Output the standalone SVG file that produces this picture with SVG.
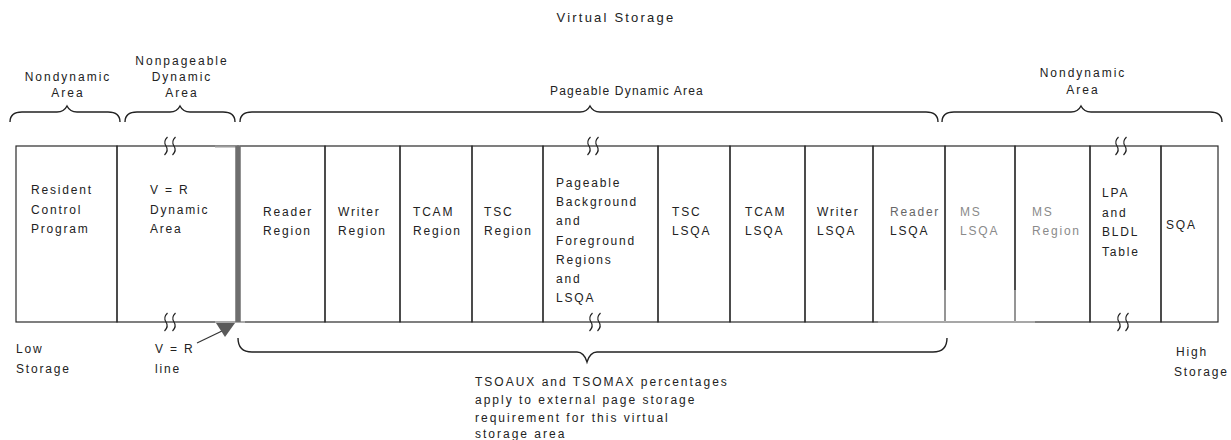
<svg xmlns="http://www.w3.org/2000/svg" width="1231" height="440" viewBox="0 0 1231 440">
<style>
.t{font-family:"Liberation Sans",Arial,sans-serif;font-size:12px;letter-spacing:1.8px;fill:#222}
.w{letter-spacing:2px}
.cell{fill:none;stroke:#2a2a2a;stroke-width:1.2}
.brace{fill:none;stroke:#222;stroke-width:1.4}
.sq{fill:none;stroke:#222;stroke-width:1.2}
.faded{fill:#8a8a8a}
</style>
<rect width="1231" height="440" fill="#fff"/>
<text class="t" x="616" y="22" text-anchor="middle" style="font-size:13px;letter-spacing:2.2px">Virtual Storage</text>

<g id="labels-top">
<text class="t w" x="68" y="81" text-anchor="middle">Nondynamic</text>
<text class="t w" x="68" y="97" text-anchor="middle">Area</text>
<text class="t w" x="182" y="65" text-anchor="middle">Nonpageable</text>
<text class="t w" x="182" y="81" text-anchor="middle">Dynamic</text>
<text class="t w" x="182" y="97" text-anchor="middle">Area</text>
<text class="t" x="627" y="95" text-anchor="middle" style="letter-spacing:1.2px">Pageable Dynamic Area</text>
<text class="t w" x="1083" y="77" text-anchor="middle">Nondynamic</text>
<text class="t w" x="1083" y="94" text-anchor="middle">Area</text>
</g>

<g id="braces">
<path class="brace" d="M10,122 Q10,112 22,112 L57,112 Q64,112 67,106 Q70,112 77,112 L108,112 Q120,112 120,122"/>
<path class="brace" d="M125,122 Q125,112 137,112 L170,112 Q177,112 180,106 Q183,112 190,112 L223,112 Q235,112 235,122"/>
<path class="brace" d="M240,122 Q240,112 252,112 L580,112 Q587,112 590,106 Q593,112 600,112 L926,112 Q938,112 938,122"/>
<path class="brace" d="M942,122 Q942,112 954,112 L1071,112 Q1078,112 1081,106 Q1084,112 1091,112 L1210,112 Q1222,112 1222,122"/>
<path class="brace" d="M238,338 Q238,352 252,352 L577,352 Q584,352 587,362 Q590,352 597,352 L933,352 Q947,352 947,338"/>
</g>

<g id="n1"><rect class="cell" x="16" y="146" width="101" height="176"/>
<text class="t" x="31" y="194">Resident</text><text class="t" x="31" y="213.5">Control</text><text class="t" x="31" y="233">Program</text></g>
<g id="n2"><rect class="cell" x="117" y="146" width="121" height="176"/>
<text class="t" x="150" y="194">V = R</text><text class="t" x="150" y="213.5">Dynamic</text><text class="t" x="150" y="233">Area</text></g>
<g id="n3"><rect class="cell" x="238" y="146" width="87" height="176"/>
<text class="t" x="263" y="216">Reader</text><text class="t" x="263" y="235">Region</text></g>
<g id="n4"><rect class="cell" x="325" y="146" width="75" height="176"/>
<text class="t" x="338" y="216">Writer</text><text class="t" x="338" y="235">Region</text></g>
<g id="n5"><rect class="cell" x="400" y="146" width="72" height="176"/>
<text class="t" x="413" y="216">TCAM</text><text class="t" x="413" y="235">Region</text></g>
<g id="n6"><rect class="cell" x="472" y="146" width="71" height="176"/>
<text class="t" x="484" y="216">TSC</text><text class="t" x="484" y="235">Region</text></g>
<g id="n7"><rect class="cell" x="543" y="146" width="115" height="176"/>
<text class="t" x="556" y="187">Pageable</text><text class="t" x="556" y="206.2">Background</text><text class="t" x="556" y="225.4">and</text><text class="t" x="556" y="244.6">Foreground</text><text class="t" x="556" y="263.8">Regions</text><text class="t" x="556" y="283">and</text><text class="t" x="556" y="302.2">LSQA</text></g>
<g id="n8"><rect class="cell" x="658" y="146" width="72" height="176"/>
<text class="t" x="672" y="216">TSC</text><text class="t" x="672" y="235">LSQA</text></g>
<g id="n9"><rect class="cell" x="730" y="146" width="75" height="176"/>
<text class="t" x="745" y="216">TCAM</text><text class="t" x="745" y="235">LSQA</text></g>
<g id="n10"><rect class="cell" x="805" y="146" width="68" height="176"/>
<text class="t" x="817" y="216">Writer</text><text class="t" x="817" y="235">LSQA</text></g>
<g id="n11"><rect class="cell" x="873" y="146" width="72" height="176"/>
<text class="t" x="890" y="216" style="fill:#666">Reader</text><text class="t" x="890" y="235">LSQA</text></g>
<g id="n12"><rect class="cell" x="945" y="146" width="70" height="176"/>
<text class="t faded" x="960" y="216">MS</text><text class="t faded" x="960" y="235">LSQA</text></g>
<g id="n13"><rect class="cell" x="1015" y="146" width="75" height="176"/>
<text class="t faded" x="1032" y="216">MS</text><text class="t faded" x="1032" y="235">Region</text></g>
<g id="n14"><rect class="cell" x="1090" y="146" width="71" height="176"/>
<text class="t" x="1102" y="197">LPA</text><text class="t" x="1102" y="216.5">and</text><text class="t" x="1102" y="236">BLDL</text><text class="t" x="1102" y="255.5">Table</text></g>
<g id="n15"><rect class="cell" x="1161" y="146" width="57" height="176"/>
<text class="t" x="1166" y="229">SQA</text></g>

<g id="fade">
<line x1="878" y1="322" x2="1035" y2="322" stroke="#b5b5b5" stroke-width="1.6"/>
<line x1="945" y1="290" x2="945" y2="322.5" stroke="#b5b5b5" stroke-width="1.4"/>
<line x1="1015" y1="290" x2="1015" y2="322.5" stroke="#b5b5b5" stroke-width="1.4"/>
</g>

<g id="breaks">
<path class="sq" d="M167.5,137 Q163,141.5 166,146 Q169,150.5 164.5,155 M175.5,137 Q171,141.5 174,146 Q177,150.5 172.5,155"/>
<path class="sq" d="M167.5,313 Q163,317.5 166,322 Q169,326.5 164.5,331 M175.5,313 Q171,317.5 174,322 Q177,326.5 172.5,331"/>
<path class="sq" d="M590.5,137 Q586,141.5 589,146 Q592,150.5 587.5,155 M598.5,137 Q594,141.5 597,146 Q600,150.5 595.5,155"/>
<path class="sq" d="M592.5,313 Q588,317.5 591,322 Q594,326.5 589.5,331 M600.5,313 Q596,317.5 599,322 Q602,326.5 597.5,331"/>
<path class="sq" d="M1118.5,137 Q1114,141.5 1117,146 Q1120,150.5 1115.5,155 M1126.5,137 Q1122,141.5 1125,146 Q1128,150.5 1123.5,155"/>
<path class="sq" d="M1120.5,313 Q1116,317.5 1119,322 Q1122,326.5 1117.5,331 M1128.5,313 Q1124,317.5 1127,322 Q1130,326.5 1125.5,331"/>
</g>

<g id="connectors">
<line x1="215" y1="146.5" x2="240" y2="146.5" stroke="#9a9a9a" stroke-width="2"/>
<line x1="215" y1="322" x2="245" y2="322" stroke="#aaa" stroke-width="2"/>
<line x1="238" y1="146" x2="238" y2="322" stroke="#6e6e6e" stroke-width="5.5"/>
<line x1="197" y1="343" x2="222" y2="331" stroke="#333" stroke-width="1.2"/>
<polygon points="216,323 235,323 225,337" fill="#5a5a5a"/>
</g>

<g id="labels-bottom">
<text class="t" x="16" y="353">Low</text>
<text class="t" x="16" y="373">Storage</text>
<text class="t" x="155" y="353">V = R</text>
<text class="t" x="155" y="373">line</text>
<text class="t" x="1176" y="356">High</text>
<text class="t" x="1174" y="376">Storage</text>
<text class="t w" x="475" y="386">TSOAUX and TSOMAX percentages</text>
<text class="t w" x="475" y="404">apply to external page storage</text>
<text class="t w" x="475" y="422">requirement for this virtual</text>
<text class="t w" x="475" y="438">storage area</text>
</g>
</svg>
